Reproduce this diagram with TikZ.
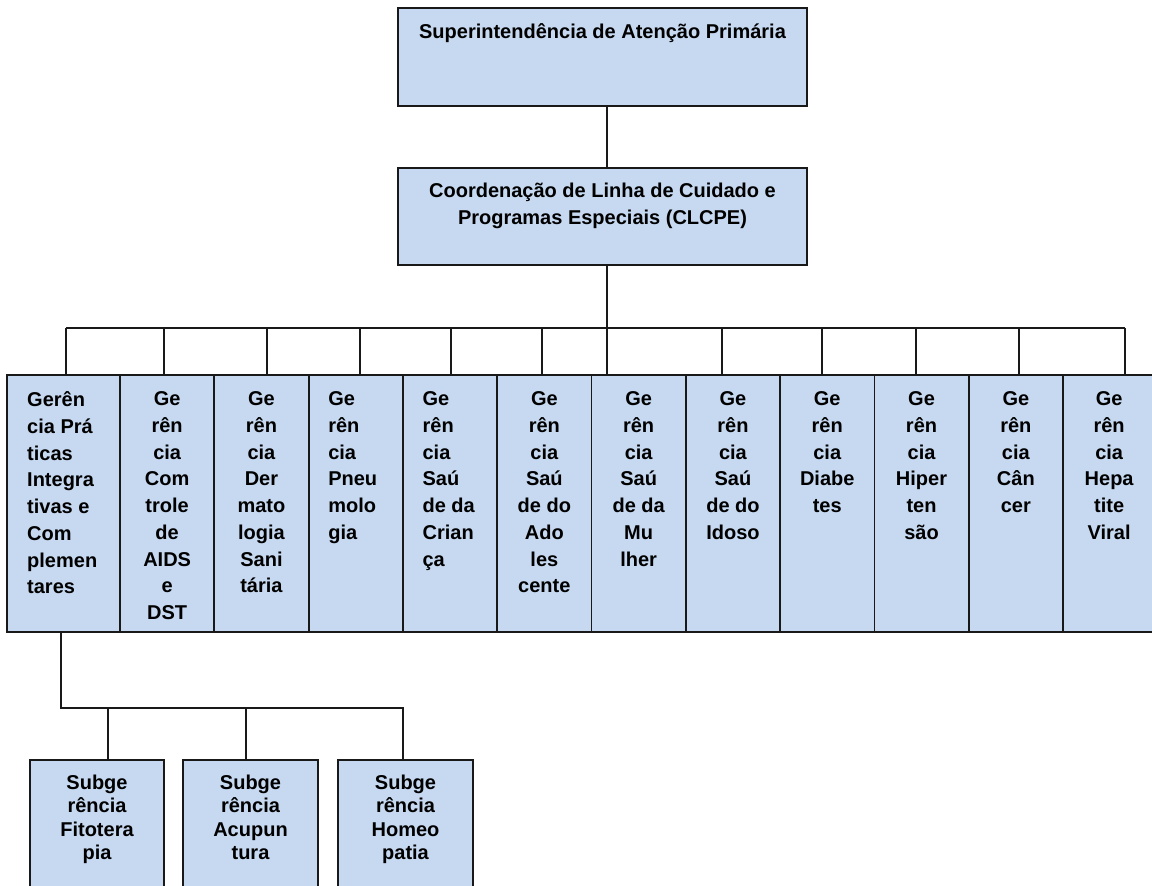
\documentclass[tikz,border=0pt]{standalone}
\usepackage{fontspec}
\setmainfont{Liberation Sans}
\definecolor{boxblue}{RGB}{198,217,241}
\definecolor{edge}{RGB}{25,25,25}
\begin{document}
\begin{tikzpicture}[x=1pt,y=-1pt,
  orgbox/.style={draw=edge, line width=1.8pt, fill=boxblue, inner sep=0pt, outer sep=0pt, anchor=north west},
  link/.style={draw=edge, line width=1.8pt},
  lbl/.style={inner sep=0pt, font=\bfseries\fontsize{20}{26.7}\selectfont, align=center, anchor=north, execute at begin node=\strut},
  lbll/.style={lbl, align=left, anchor=north west},
  sublbl/.style={lbl, font=\bfseries\fontsize{20}{23.3}\selectfont}
]
\useasboundingbox (0,0) rectangle (1152,886);

% top boxes
\node[orgbox, minimum width=409pt, minimum height=98pt] (sup) at (398,8) {};
\node[lbl] (tsup) at ([yshift=-11.3pt]sup.north) {Superintendência de Atenção Primária};
\node[orgbox, minimum width=409pt, minimum height=97pt] (coord) at (398,168) {};
\node[lbl] (tcoord) at ([yshift=-15.3pt]coord.north) {Coordenação de Linha de Cuidado e\\Programas Especiais (CLCPE)};

% row of boxes
\node[orgbox, minimum width=113pt, minimum height=257pt] (b1) at (7,375) {};
\node[orgbox, minimum width=94.3pt, minimum height=257pt] (b2) at (120,375) {};
\node[orgbox, minimum width=94.3pt, minimum height=257pt] (b3) at (214.3,375) {};
\node[orgbox, minimum width=94.3pt, minimum height=257pt] (b4) at (308.6,375) {};
\node[orgbox, minimum width=94.3pt, minimum height=257pt] (b5) at (402.9,375) {};
\node[orgbox, minimum width=94.3pt, minimum height=257pt] (b6) at (497.2,375) {};
\node[orgbox, minimum width=94.3pt, minimum height=257pt] (b7) at (591.5,375) {};
\node[orgbox, minimum width=94.3pt, minimum height=257pt] (b8) at (685.8,375) {};
\node[orgbox, minimum width=94.3pt, minimum height=257pt] (b9) at (780.1,375) {};
\node[orgbox, minimum width=94.3pt, minimum height=257pt] (b10) at (874.4,375) {};
\node[orgbox, minimum width=94.3pt, minimum height=257pt] (b11) at (968.7,375) {};
\node[orgbox, minimum width=94.3pt, minimum height=257pt] (b12) at (1063,375) {};

\node[lbll] (t1) at ([xshift=20pt,yshift=-16.7pt]b1.north west) {Gerên\\cia Prá\\ticas\\Integra\\tivas e\\Com\\plemen\\tares};
\node[lbl] (t2) at ([yshift=-16.7pt]b2.north) {Ge\\rên\\cia\\Com\\trole\\de\\AIDS\\e\\DST};
\node[lbl] (t3) at ([yshift=-16.7pt]b3.north) {Ge\\rên\\cia\\Der\\mato\\logia\\Sani\\tária};
\node[lbll] (t4) at ([xshift=19.5pt,yshift=-16.7pt]b4.north west) {Ge\\rên\\cia\\Pneu\\molo\\gia};
\node[lbll] (t5) at ([xshift=19.5pt,yshift=-16.7pt]b5.north west) {Ge\\rên\\cia\\Saú\\de da\\Crian\\ça};
\node[lbl] (t6) at ([yshift=-16.7pt]b6.north) {Ge\\rên\\cia\\Saú\\de do\\Ado\\les\\cente};
\node[lbl] (t7) at ([yshift=-16.7pt]b7.north) {Ge\\rên\\cia\\Saú\\de da\\Mu\\lher};
\node[lbl] (t8) at ([yshift=-16.7pt]b8.north) {Ge\\rên\\cia\\Saú\\de do\\Idoso};
\node[lbl] (t9) at ([yshift=-16.7pt]b9.north) {Ge\\rên\\cia\\Diabe\\tes};
\node[lbl] (t10) at ([yshift=-16.7pt]b10.north) {Ge\\rên\\cia\\Hiper\\ten\\são};
\node[lbl] (t11) at ([yshift=-16.7pt]b11.north) {Ge\\rên\\cia\\Cân\\cer};
\node[lbl] (t12) at ([xshift=-1pt,yshift=-16.7pt]b12.north) {Ge\\rên\\cia\\Hepa\\tite\\Viral};

% sub boxes
\node[orgbox, minimum width=134pt, minimum height=140pt] (s1) at (30,760) {};
\node[orgbox, minimum width=135pt, minimum height=140pt] (s2) at (183,760) {};
\node[orgbox, minimum width=135pt, minimum height=140pt] (s3) at (338,760) {};
\node[sublbl] (ts1) at ([yshift=-14.7pt]s1.north) {Subge\\rência\\Fitotera\\pia};
\node[sublbl] (ts2) at ([yshift=-14.7pt]s2.north) {Subge\\rência\\Acupun\\tura};
\node[sublbl] (ts3) at ([yshift=-14.7pt]s3.north) {Subge\\rência\\Homeo\\patia};

% connectors
\coordinate (busL) at (66,328);
\coordinate (busR) at (1125,328);
\coordinate (subL) at (61,708);
\coordinate (subR) at (404,708);

\draw[link] ([xshift=4.5pt]sup.south) -- ([xshift=4.5pt]coord.north);
\draw[link] ([xshift=4.5pt]coord.south) -- ([xshift=4.5pt]coord.south |- b7.north);
\draw[link] (busL) -- (busR);
\draw[link] (busL) -- (busL |- b1.north);
\draw[link] ([xshift=-3pt]b2.north) -- ([xshift=-3pt]b2.north |- busL);
\draw[link] ([xshift=5.5pt]b3.north) -- ([xshift=5.5pt]b3.north |- busL);
\draw[link] ([xshift=4pt]b4.north) -- ([xshift=4pt]b4.north |- busL);
\draw[link] ([xshift=1pt]b5.north) -- ([xshift=1pt]b5.north |- busL);
\draw[link] ([xshift=-2.5pt]b6.north) -- ([xshift=-2.5pt]b6.north |- busL);
\draw[link] ([xshift=-11pt]b8.north) -- ([xshift=-11pt]b8.north |- busL);
\draw[link] ([xshift=-5pt]b9.north) -- ([xshift=-5pt]b9.north |- busL);
\draw[link] ([xshift=-5.5pt]b10.north) -- ([xshift=-5.5pt]b10.north |- busL);
\draw[link] ([xshift=3pt]b11.north) -- ([xshift=3pt]b11.north |- busL);
\draw[link] (busR) -- (busR |- b12.north);

\draw[link] (b1.south -| subL) -- (subL) -- (subR);
\draw[link] ([xshift=11pt]s1.north) -- ([xshift=11pt]s1.north |- subL);
\draw[link] ([xshift=-4.5pt]s2.north) -- ([xshift=-4.5pt]s2.north |- subL);
\draw[link] ([xshift=-2.5pt]s3.north) -- ([xshift=-2.5pt]s3.north |- subL);
\end{tikzpicture}
\end{document}
